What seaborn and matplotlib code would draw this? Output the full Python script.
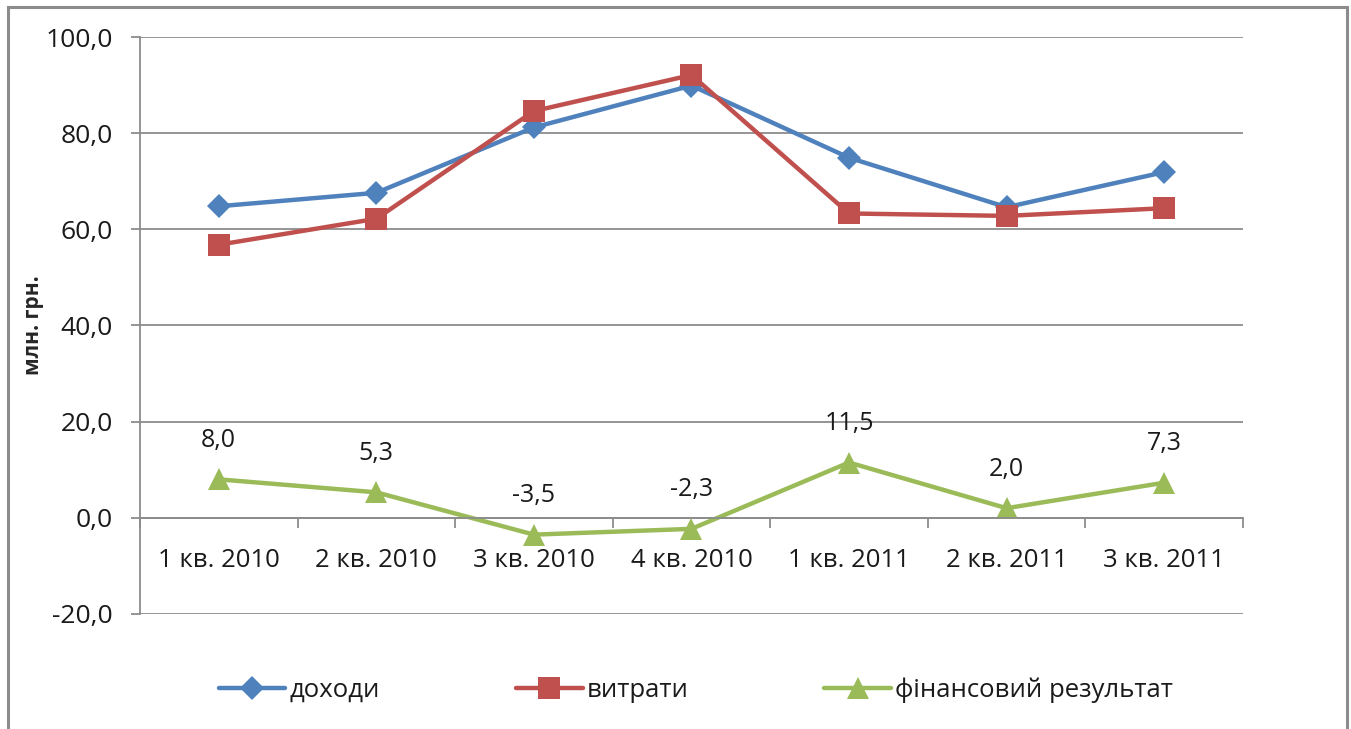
import matplotlib
matplotlib.use("Agg")
import matplotlib.pyplot as plt
import matplotlib.patches as patches
from matplotlib.ticker import FuncFormatter, FixedLocator
import seaborn as sns

# дані з графіка
quarters = ["1 кв. 2010", "2 кв. 2010", "3 кв. 2010", "4 кв. 2010",
            "1 кв. 2011", "2 кв. 2011", "3 кв. 2011"]
income = [64.8, 67.6, 81.2, 89.9, 74.9, 64.6, 71.9]
costs = [56.8, 62.2, 84.6, 92.1, 63.3, 62.8, 64.4]
result = [8.0, 5.3, -3.5, -2.3, 11.5, 2.0, 7.3]
series_names = ["доходи", "витрати", "фінансовий результат"]

sns.set_style("white")
plt.rcParams['font.family'] = ['Open Sans', 'DejaVu Sans']

fig = plt.figure(figsize=(13.51, 7.29), dpi=100)
ax = fig.add_axes([0.1036, 0.1578, 0.8164, 0.7914])

x = list(range(len(quarters)))
sns.lineplot(x=x, y=income, ax=ax, color="#4F81BD", lw=3.2, marker="D",
             markersize=12, markeredgewidth=0, label=series_names[0])
sns.lineplot(x=x, y=costs, ax=ax, color="#C0504D", lw=3.2, marker="s",
             markersize=16, markeredgewidth=0, label=series_names[1])
sns.lineplot(x=x, y=result, ax=ax, color="#9BBB59", lw=3.2, marker="^",
             markersize=16, markeredgewidth=0, label=series_names[2])

# підписи значень фінансового результату
for xi, v in zip(x, result):
    ax.annotate(f"{v:.1f}".replace(".", ","), (xi, v), xytext=(0, 28),
                textcoords="offset points", ha="center", va="center",
                fontsize=18, color="#1a1a1a")

ax.set_xlim(-0.5, len(quarters) - 0.5)
ax.set_ylim(-20, 100)
ax.set_yticks(range(-20, 101, 20))
ax.yaxis.set_major_formatter(FuncFormatter(lambda v, p: f"{v:.1f}".replace(".", ",")))
ax.set_xticks(x)
ax.set_xticklabels(quarters)
ax.xaxis.set_minor_locator(FixedLocator([i + 0.5 for i in range(-1, len(quarters))]))

ax.grid(axis="y", color="#8c8c8c", lw=1.3)
ax.set_axisbelow(True)
for s in ["top", "right"]:
    ax.spines[s].set_visible(False)
ax.spines["left"].set_color("#8c8c8c")
ax.spines["left"].set_linewidth(1.3)
ax.spines["bottom"].set_position(("data", 0))
ax.spines["bottom"].set_color("#8c8c8c")
ax.spines["bottom"].set_linewidth(1.3)

ax.tick_params(axis="y", which="major", left=True, length=6.5, width=1.3,
               color="#8c8c8c", pad=13, labelsize=19, labelcolor="#1a1a1a")
ax.tick_params(axis="x", which="major", length=0, pad=22, labelsize=18.5,
               labelcolor="#1a1a1a")
ax.tick_params(axis="x", which="minor", bottom=True, length=7, width=1.3,
               color="#8c8c8c")

ax.set_xlabel("")
ax.set_ylabel("млн. грн.", fontsize=15, fontweight="bold")
ax.yaxis.set_label_coords(-0.087, 0.5)

ax.get_legend().remove()
handles, labels = ax.get_legend_handles_labels()
fig.legend(handles, labels, loc="center", bbox_to_anchor=(0.515, 0.053), ncol=3,
           frameon=False, fontsize=18.5, handlelength=2.6, columnspacing=5.3,
           handletextpad=0.15, labelcolor="#1a1a1a")

# рамка діаграми
fig.patches.append(patches.Rectangle((0.006, -0.02), 0.991, 1.0104,
                                     transform=fig.transFigure, fill=False,
                                     edgecolor="#8c8c8c", lw=2.2))

fig.savefig("out.png", dpi=100)
